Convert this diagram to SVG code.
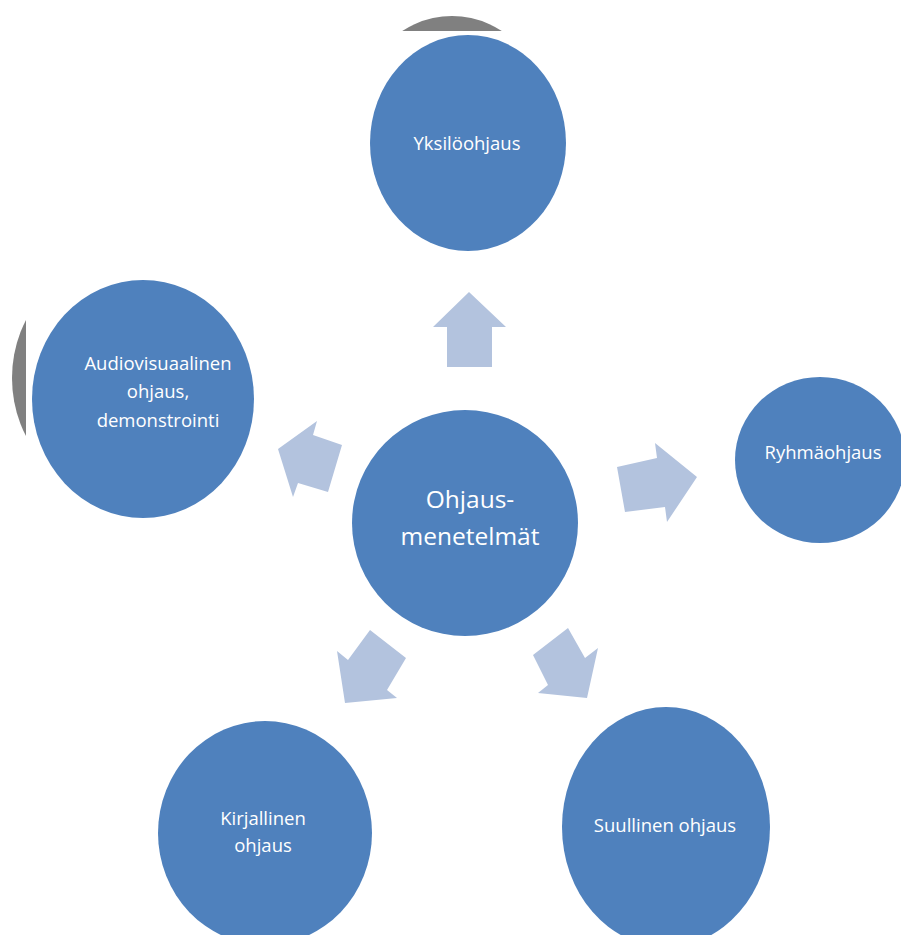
<svg xmlns="http://www.w3.org/2000/svg" width="901" height="935" viewBox="0 0 901 935">
<style>
.node{fill:#4F81BD}
.shadow{fill:#808080}
.arrow{fill:#B3C3DE}
.lbl{font-family:"Open Sans","Noto Sans","DejaVu Sans",sans-serif;font-size:18.5px;fill:#FFFFFF;text-anchor:middle}
.big{font-size:24.5px}
</style>
<defs>
<clipPath id="clipTop"><rect x="0" y="0" width="901" height="31"/></clipPath>
<clipPath id="clipLeft"><rect x="0" y="0" width="26" height="935"/></clipPath>
</defs>
<rect width="901" height="935" fill="#FFFFFF"/>
<g id="shadows">
<ellipse class="shadow" cx="452" cy="124" rx="98" ry="108" clip-path="url(#clipTop)"/>
<ellipse class="shadow" cx="124" cy="378" rx="112" ry="120" clip-path="url(#clipLeft)"/>
</g>
<g id="connectors">
<polygon class="arrow" points="469,292 506,327 492,327 492,367 447,367 447,327 433,327"/>
<polygon class="arrow" points="697,477 667,522 665,507 625,512 617,467 657,458 655,443"/>
<polygon class="arrow" points="278,449 317,421 313,435 342,445 328,492 298,483 293,497"/>
<polygon class="arrow" points="345,703 337,651 348,660 370,630 406,658 387,690 397,698"/>
<polygon class="arrow" points="587,698 598,648 585,658 568,628 533,655 548,685 538,693"/>
</g>
<g id="yksiloohjaus">
<ellipse class="node" cx="468" cy="143" rx="98" ry="108"/>
<text class="lbl" x="467" y="150">Yksilöohjaus</text>
</g>
<g id="audiovisuaalinen">
<ellipse class="node" cx="143" cy="399" rx="111" ry="119"/>
<text class="lbl" x="158" y="370">Audiovisuaalinen</text>
<text class="lbl" x="158" y="398">ohjaus,</text>
<text class="lbl" x="158" y="427">demonstrointi</text>
</g>
<g id="ryhmaohjaus">
<ellipse class="node" cx="820" cy="460" rx="85" ry="83"/>
<text class="lbl" x="823" y="459">Ryhmäohjaus</text>
</g>
<g id="ohjausmenetelmat">
<ellipse class="node" cx="465" cy="523" rx="113" ry="113"/>
<text class="lbl big" x="470" y="508">Ohjaus-</text>
<text class="lbl big" x="470" y="545">menetelmät</text>
</g>
<g id="kirjallinen">
<ellipse class="node" cx="265" cy="833" rx="107" ry="112"/>
<text class="lbl" x="263" y="825">Kirjallinen</text>
<text class="lbl" x="263" y="852">ohjaus</text>
</g>
<g id="suullinen">
<ellipse class="node" cx="666" cy="827" rx="104" ry="120"/>
<text class="lbl" x="665" y="832">Suullinen ohjaus</text>
</g>
</svg>
